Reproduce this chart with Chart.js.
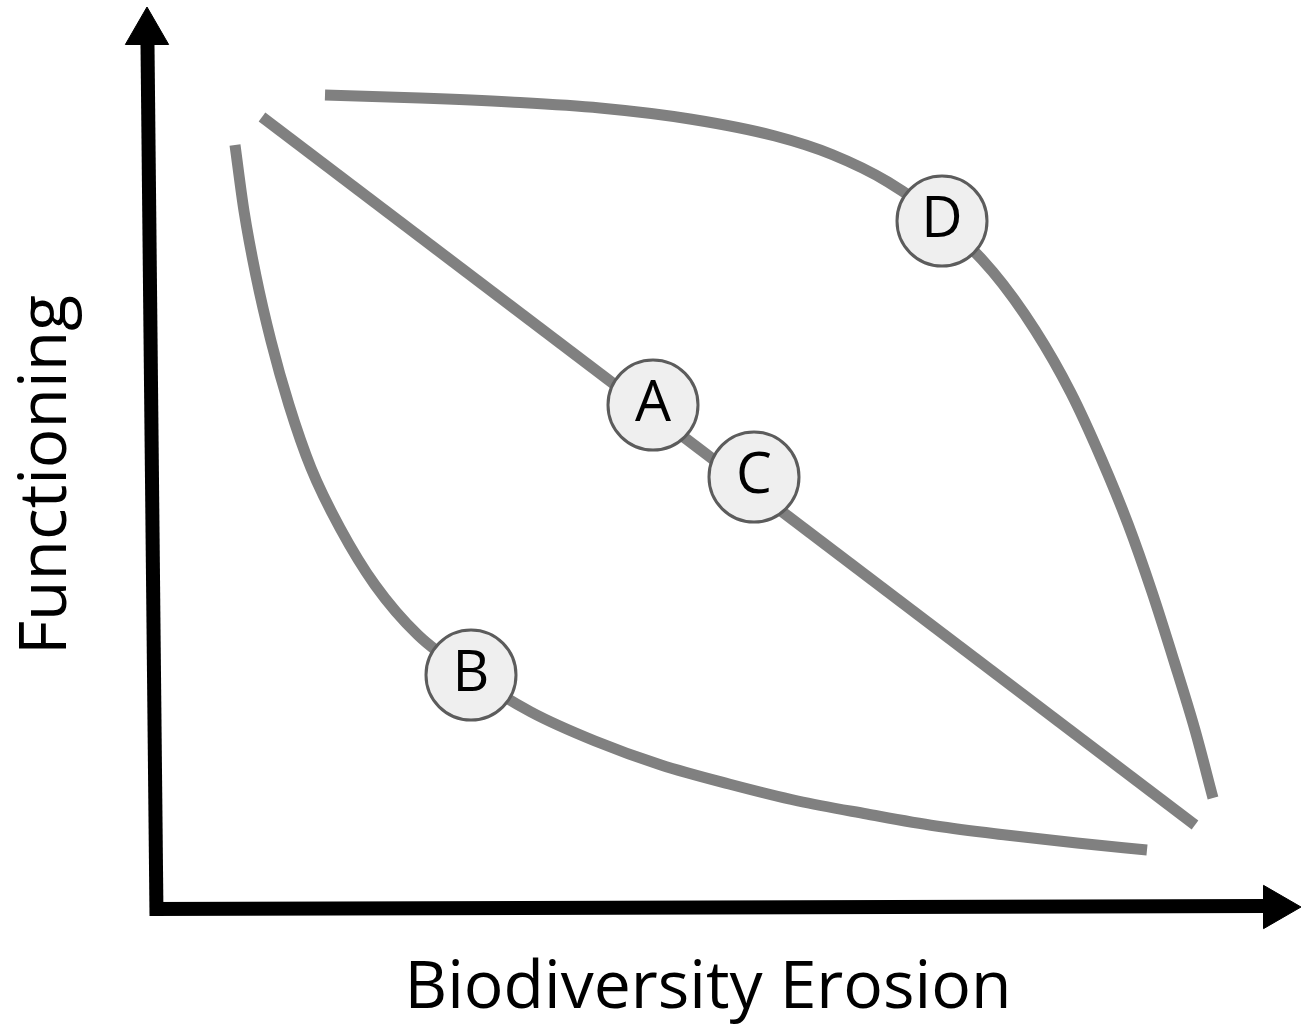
<!DOCTYPE html>
<html>
<head>
<meta charset="utf-8">
<script src="https://cdn.jsdelivr.net/npm/chart.js@4.4.1/dist/chart.umd.min.js"></script>
<style>
  html, body { margin: 0; padding: 0; background: #ffffff; }
  #wrap { position: relative; width: 1311px; height: 1024px; }
</style>
</head>
<body>
<div id="wrap"><canvas id="c"></canvas></div>
<script>
// ---- Data (conceptual units; origin = axis corner) ----
const xTitle = "Biodiversity Erosion";
const yTitle = "Functioning";

// Curve D (top, concave)
const curveD = [
  {x:17.3,y:81.4},{x:26.8,y:81.1},{x:35.8,y:80.7},{x:44.8,y:80.1},{x:53.8,y:79.0},
  {x:62.3,y:77.3},{x:68.0,y:75.45},{x:73.6,y:72.7},{x:79.0,y:68.8},{x:84.1,y:63.7},
  {x:88.3,y:57.9},{x:91.9,y:51.6},{x:94.9,y:45.1},{x:97.6,y:38.5},{x:100.0,y:31.7},
  {x:102.2,y:24.8},{x:104.3,y:17.9},{x:106.1,y:11.1}
];
// Line A/C (linear)
const lineAC = [ {x:11.0,y:79.2},{x:104.3,y:8.4} ];
// Curve B (bottom, convex)
const curveB = [
  {x:8.3,y:76.4},{x:9.2,y:69.8},{x:10.4,y:63.3},{x:11.9,y:56.8},{x:13.7,y:50.4},
  {x:15.9,y:44.1},{x:18.8,y:38.1},{x:22.3,y:32.4},{x:26.6,y:27.4},{x:31.9,y:23.4},
  {x:37.9,y:19.7},{x:44.3,y:16.8},{x:50.9,y:14.4},{x:57.7,y:12.5},{x:64.6,y:10.8},
  {x:71.5,y:9.5},{x:78.4,y:8.3},{x:85.4,y:7.4},{x:92.5,y:6.6},{x:99.5,y:5.9}
];
// Labelled markers
const markerLabels = ["D","A","C","B"];
const markerPoints = [ {x:79.0,y:68.8},{x:50.1,y:50.4},{x:60.2,y:43.2},{x:31.9,y:23.4} ];

// Axes (arrows)
const yAxisLine = [ {x:0.45,y:-0.7},{x:-0.45,y:86.4} ];
const xAxisLine = [ {x:-0.2,y:0.0},{x:111.2,y:0.3} ];
const yArrowHead = [ {x:-0.5,y:87.7} ];
const xArrowHead = [ {x:112.4,y:0.2} ];

// ---- Chart ----
const GRAY = '#808080';
const curveStyle = {
  showLine: true, borderColor: GRAY, borderWidth: 11, pointRadius: 0,
  pointHoverRadius: 0, fill: false, borderCapStyle: 'butt', borderJoinStyle: 'round', order: 2
};

const labelPlugin = {
  id: 'labels',
  afterDatasetsDraw(chart) {
    const ctx = chart.ctx;
    const meta = chart.getDatasetMeta(3);
    ctx.save();
    ctx.fillStyle = '#000';
    ctx.textAlign = 'center';
    ctx.textBaseline = 'middle';
    ctx.font = '400 57px "Open Sans"';
    meta.data.forEach((el, i) => {
      ctx.fillText(markerLabels[i], el.x, el.y);
    });
    // Axis titles, sized to the reference extents
    ctx.font = '400 64px "Open Sans"';
    let w = ctx.measureText(xTitle).width;
    let fs = 64 * 607 / w;
    ctx.font = '400 ' + fs + 'px "Open Sans"';
    ctx.textBaseline = 'alphabetic';
    ctx.fillText(xTitle, 708, 1008);
    ctx.font = '400 64px "Open Sans"';
    w = ctx.measureText(yTitle).width;
    fs = 64 * 360 / w;
    ctx.translate(66, 475);
    ctx.rotate(-Math.PI / 2);
    ctx.font = '400 ' + fs + 'px "Open Sans"';
    ctx.fillText(yTitle, 0, 0);
    ctx.restore();
  }
};

new Chart(document.getElementById('c'), {
  type: 'scatter',
  data: {
    datasets: [
      Object.assign({ label: 'D', data: curveD, cubicInterpolationMode: 'monotone' }, curveStyle),
      Object.assign({ label: 'AC', data: lineAC, tension: 0 }, curveStyle),
      Object.assign({ label: 'B', data: curveB, cubicInterpolationMode: 'monotone' }, curveStyle),
      { label: 'markers', data: markerPoints, showLine: false, pointRadius: 45, pointHoverRadius: 45,
        pointBackgroundColor: '#efefef', pointBorderColor: '#5c5c5c', pointBorderWidth: 3,
        pointHoverBorderWidth: 3, order: 0 },
      { label: 'yaxis', data: yAxisLine, showLine: true, borderColor: '#000', borderWidth: 14,
        pointRadius: 0, borderCapStyle: 'butt', order: 1 },
      { label: 'xaxis', data: xAxisLine, showLine: true, borderColor: '#000', borderWidth: 14,
        pointRadius: 0, borderCapStyle: 'butt', order: 1 },
      { label: 'yarrow', data: yArrowHead, pointStyle: 'triangle', pointRadius: 25, pointHoverRadius: 25,
        pointBackgroundColor: '#000', pointBorderColor: '#000', pointBorderWidth: 1, rotation: 0, order: 1 },
      { label: 'xarrow', data: xArrowHead, pointStyle: 'triangle', pointRadius: 25, pointHoverRadius: 25,
        pointBackgroundColor: '#000', pointBorderColor: '#000', pointBorderWidth: 1, rotation: 90, order: 1 }
    ]
  },
  options: {
    responsive: true,
    maintainAspectRatio: false,
    animation: false,
    events: [],
    layout: { padding: 0, autoPadding: false },
    plugins: { legend: { display: false }, tooltip: { enabled: false } },
    scales: {
      x: { type: 'linear', min: -15.2, max: 115.9, display: false },
      y: { type: 'linear', min: -11.5, max: 90.9, display: false }
    }
  },
  plugins: [labelPlugin]
});
</script>
</body>
</html>
